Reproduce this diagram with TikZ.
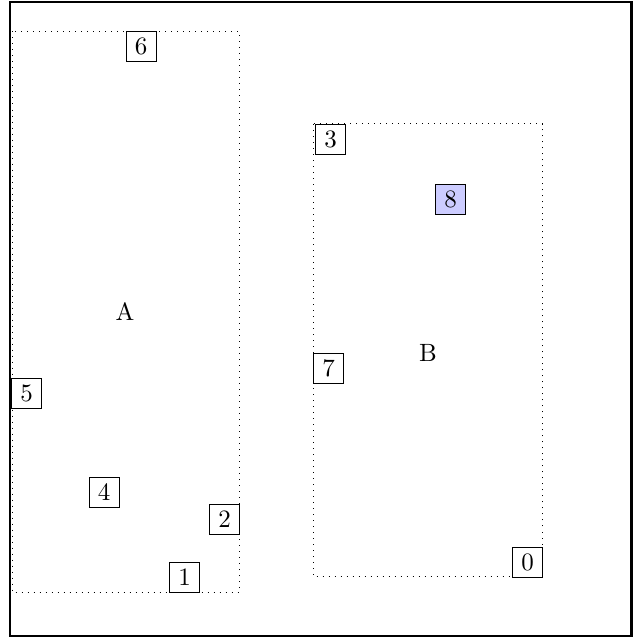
\documentclass[tikz,border=0pt]{standalone}
\begin{document}
\begin{tikzpicture}[x=0.4pt,y=-0.4pt,
  nbox/.style={draw,fill=white,minimum size=12pt,inner sep=2pt},
  cluster/.style={dotted,line width=0.4pt}]
\useasboundingbox (0,0) rectangle (634,639);
\draw[line width=1pt] (10,2) rectangle (631.5,636);
\draw[cluster] (12,31.5) rectangle (239.5,592);
\draw[cluster] (313,124) rectangle (542.5,576.5);
\node (A) at (125,312) {A};
\node (B) at (428,353) {B};
\node[nbox] (n6) at (141,46.5) {6};
\node[nbox] (n5) at (26.5,393.5) {5};
\node[nbox] (n4) at (104,492.5) {4};
\node[nbox] (n2) at (224.5,519.5) {2};
\node[nbox] (n1) at (184.5,577) {1};
\node[nbox] (n3) at (330.5,139.5) {3};
\node[nbox,fill=blue!20] (n8) at (450.5,199.5) {8};
\node[nbox] (n7) at (328.5,368.5) {7};
\node[nbox] (n0) at (527.5,562) {0};
\end{tikzpicture}
\end{document}
